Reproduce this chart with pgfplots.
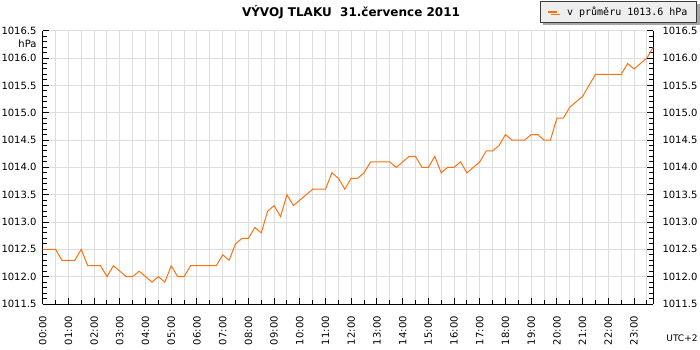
\documentclass[border=0pt]{standalone}
\usepackage{fontspec}
\setmainfont{DejaVu Sans}
\newfontfamily\monofont{DejaVu Sans Mono}
\usepackage{pgfplots}
\usepackage{pgfplotstable}
\pgfplotsset{compat=1.18}
\usetikzlibrary{shadows}
\definecolor{lineorange}{RGB}{255,112,16}
\definecolor{gridgray}{RGB}{221,221,221}
\definecolor{legfill}{RGB}{238,238,238}
\definecolor{legdraw}{RGB}{60,60,60}

\pgfplotstableread{
x y
0 1012.5
0.25 1012.5
0.5 1012.5
0.75 1012.3
1 1012.3
1.25 1012.3
1.5 1012.5
1.75 1012.2
2 1012.2
2.25 1012.2
2.5 1012.0
2.75 1012.2
3 1012.1
3.25 1012.0
3.5 1012.0
3.75 1012.1
4 1012.0
4.25 1011.9
4.5 1012.0
4.75 1011.9
5 1012.2
5.25 1012.0
5.5 1012.0
5.75 1012.2
6 1012.2
6.25 1012.2
6.5 1012.2
6.75 1012.2
7 1012.4
7.25 1012.3
7.5 1012.6
7.75 1012.7
8 1012.7
8.25 1012.9
8.5 1012.8
8.75 1013.2
9 1013.3
9.25 1013.1
9.5 1013.5
9.75 1013.3
10 1013.4
10.25 1013.5
10.5 1013.6
10.75 1013.6
11 1013.6
11.25 1013.9
11.5 1013.8
11.75 1013.6
12 1013.8
12.25 1013.8
12.5 1013.9
12.75 1014.1
13 1014.1
13.25 1014.1
13.5 1014.1
13.75 1014.0
14 1014.1
14.25 1014.2
14.5 1014.2
14.75 1014.0
15 1014.0
15.25 1014.2
15.5 1013.9
15.75 1014.0
16 1014.0
16.25 1014.1
16.5 1013.9
16.75 1014.0
17 1014.1
17.25 1014.3
17.5 1014.3
17.75 1014.4
18 1014.6
18.25 1014.5
18.5 1014.5
18.75 1014.5
19 1014.6
19.25 1014.6
19.5 1014.5
19.75 1014.5
20 1014.9
20.25 1014.9
20.5 1015.1
20.75 1015.2
21 1015.3
21.25 1015.5
21.5 1015.7
21.75 1015.7
22 1015.7
22.25 1015.7
22.5 1015.7
22.75 1015.9
23 1015.8
23.25 1015.9
23.5 1016.0
23.75 1016.2
}\pressure

\begin{document}
\begin{tikzpicture}
\path[use as bounding box] (-42.7pt,-46pt) rectangle (657.3pt,304pt);
\begin{axis}[
  at={(0pt,0pt)}, anchor=south west,
  scale only axis, width=610.6pt, height=273.3pt,
  xmin=0, xmax=23.75, ymin=1011.5, ymax=1016.5,
  axis x line*=bottom, axis y line*=box,
  xtick={0,1,2,3,4,5,6,7,8,9,10,11,12,13,14,15,16,17,18,19,20,21,22,23},
  xticklabels={00:00,01:00,02:00,03:00,04:00,05:00,06:00,07:00,08:00,09:00,10:00,11:00,12:00,13:00,14:00,15:00,16:00,17:00,18:00,19:00,20:00,21:00,22:00,23:00},
  minor xtick={0.5,1.5,2.5,3.5,4.5,5.5,6.5,7.5,8.5,9.5,10.5,11.5,12.5,13.5,14.5,15.5,16.5,17.5,18.5,19.5,20.5,21.5,22.5,23.5},
  ytick={1011.5,1012,1012.5,1013,1013.5,1014,1014.5,1015,1015.5,1016,1016.5},
  yticklabels={1011.5,1012.0,1012.5,1013.0,1013.5,1014.0,1014.5,1015.0,1015.5,1016.0,1016.5},
  minor y tick num=4,
  tick align=inside,
  major tick length=6pt, minor tick length=4.5pt,
  every tick/.style={black, line width=1pt},
  every minor tick/.style={black, line width=1pt},
  xmajorgrids, xminorgrids, ymajorgrids,
  major grid style={gridgray, line width=1pt},
  minor grid style={gridgray, line width=1pt},
  axis line style={black, line width=1pt},
  ticklabel style={font=\fontsize{10}{12}\selectfont},
  xticklabel style={rotate=90, anchor=east, inner sep=0pt},
  xticklabel shift=12pt,
  yticklabel style={inner sep=0pt},
  yticklabel shift=6pt,
  legend style={at={(1.0716,1.1098)}, anchor=north east,
    draw=legdraw, fill=legfill, line width=1pt,
    font=\monofont\fontsize{10}{12}\selectfont,
    inner xsep=7pt, inner ysep=3.5pt,
    /tikz/every odd column/.append style={column sep=7pt},
    drop shadow={shadow xshift=3pt, shadow yshift=-3pt, fill=gray!70, opacity=1}},
  legend cell align=left,
  legend image code/.code={\draw[line width=2pt, lineorange] (0pt,0pt) -- (9pt,0pt);},
]
\addplot[lineorange, line width=1pt] table[x=x, y=y] {\pressure};
\addlegendentry{v průměru 1013.6 hPa}
\end{axis}
\begin{axis}[
  at={(0pt,0pt)}, anchor=south west,
  scale only axis, width=610.6pt, height=273.3pt,
  xmin=0, xmax=23.75, ymin=1011.5, ymax=1016.5,
  hide x axis, axis y line*=right,
  y axis line style={draw=none},
  ytick={1011.5,1012,1012.5,1013,1013.5,1014,1014.5,1015,1015.5,1016,1016.5},
  yticklabels={1011.5,1012.0,1012.5,1013.0,1013.5,1014.0,1014.5,1015.0,1015.5,1016.0,1016.5},
  ytick style={draw=none},
  major tick length=0pt,
  yticklabel style={inner sep=0pt, anchor=west, font=\fontsize{10}{12}\selectfont},
  yticklabel shift=9pt,
]
\end{axis}
\node[anchor=base, font=\bfseries\fontsize{12}{14}\selectfont] at (308.3pt,287pt) {VÝVOJ TLAKU\ \ 31.července 2011};
\node[anchor=base east, inner sep=0pt, font=\fontsize{10}{12}\selectfont] at (-6pt,256.3pt) {hPa};
\node[anchor=base west, inner sep=0pt, font=\fontsize{9}{11}\selectfont] at (623.5pt,-37.7pt) {UTC+2};
\end{tikzpicture}
\end{document}
